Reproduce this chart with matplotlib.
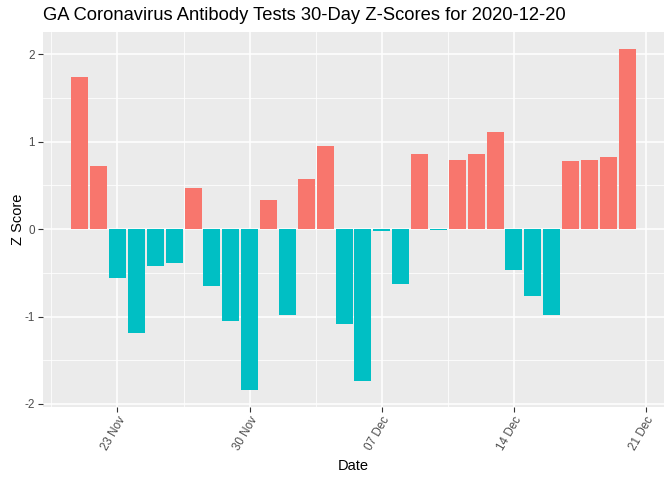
import matplotlib
matplotlib.use("Agg")
import matplotlib.pyplot as plt
import matplotlib.dates as mdates
import numpy as np
import pandas as pd

plt.rcParams["font.family"] = ["Liberation Sans", "DejaVu Sans"]

dates = pd.date_range("2020-11-21", "2020-12-20", freq="D")
z_scores = [1.74, 0.72, -0.56, -1.19, -0.42, -0.39, 0.47, -0.65, -1.05, -1.84,
            0.33, -0.98, 0.57, 0.95, -1.08, -1.74, -0.02, -0.63, 0.86, -0.01,
            0.79, 0.86, 1.11, -0.47, -0.76, -0.98, 0.78, 0.79, 0.82, 2.06]
major_ticks = pd.to_datetime(["2020-11-23", "2020-11-30", "2020-12-07", "2020-12-14", "2020-12-21"])
tick_labels = ["23 Nov", "30 Nov", "07 Dec", "14 Dec", "21 Dec"]

x = mdates.date2num(dates)
colors = ["#F8766D" if v > 0 else "#00BFC4" for v in z_scores]

fig = plt.figure(figsize=(6.72, 4.8), dpi=100)
ax = fig.add_axes([43 / 672, 73 / 480, 621 / 672, 375 / 480])
ax.set_facecolor("#EBEBEB")

ax.bar(x, z_scores, width=0.9, color=colors, zorder=3)

# ggplot-style 5% expansion
lo = x[0] - 0.45
hi = x[-1] + 0.45
pad = (hi - lo) * 0.05
ax.set_xlim(lo - pad, hi + pad)
ymin, ymax = min(z_scores), max(z_scores)
ypad = (ymax - ymin) * 0.05
ax.set_ylim(ymin - ypad, ymax + ypad)

xt = mdates.date2num(major_ticks)
ax.set_xticks(xt)
ax.set_xticklabels(tick_labels, rotation=60, ha="right", va="top",
                   rotation_mode="anchor", fontsize=8.4, color="#4D4D4D")
ax.set_xticks(xt[:-1] - 3.5, minor=True)
ax.set_yticks([-2, -1, 0, 1, 2])
ax.set_yticklabels(["-2", "-1", "0", "1", "2"], fontsize=8.4, color="#4D4D4D")
ax.set_yticks([-1.5, -0.5, 0.5, 1.5], minor=True)

ax.grid(which="major", color="white", linewidth=1.1, zorder=0)
ax.grid(which="minor", color="white", linewidth=0.55, zorder=0)
ax.tick_params(which="major", length=3.7, width=0.8, color="#333333", pad=2)
ax.tick_params(which="minor", length=0)
for s in ax.spines.values():
    s.set_visible(False)

ax.set_xlabel("Date", fontsize=10.5, labelpad=4)
ax.set_ylabel("Z Score", fontsize=10.5, labelpad=0)
fig.text(43 / 672, 1 - 16 / 480, "GA Coronavirus Antibody Tests 30-Day Z-Scores for 2020-12-20",
         fontsize=13.2, ha="left", va="center")

fig.savefig("out.png", dpi=100)
